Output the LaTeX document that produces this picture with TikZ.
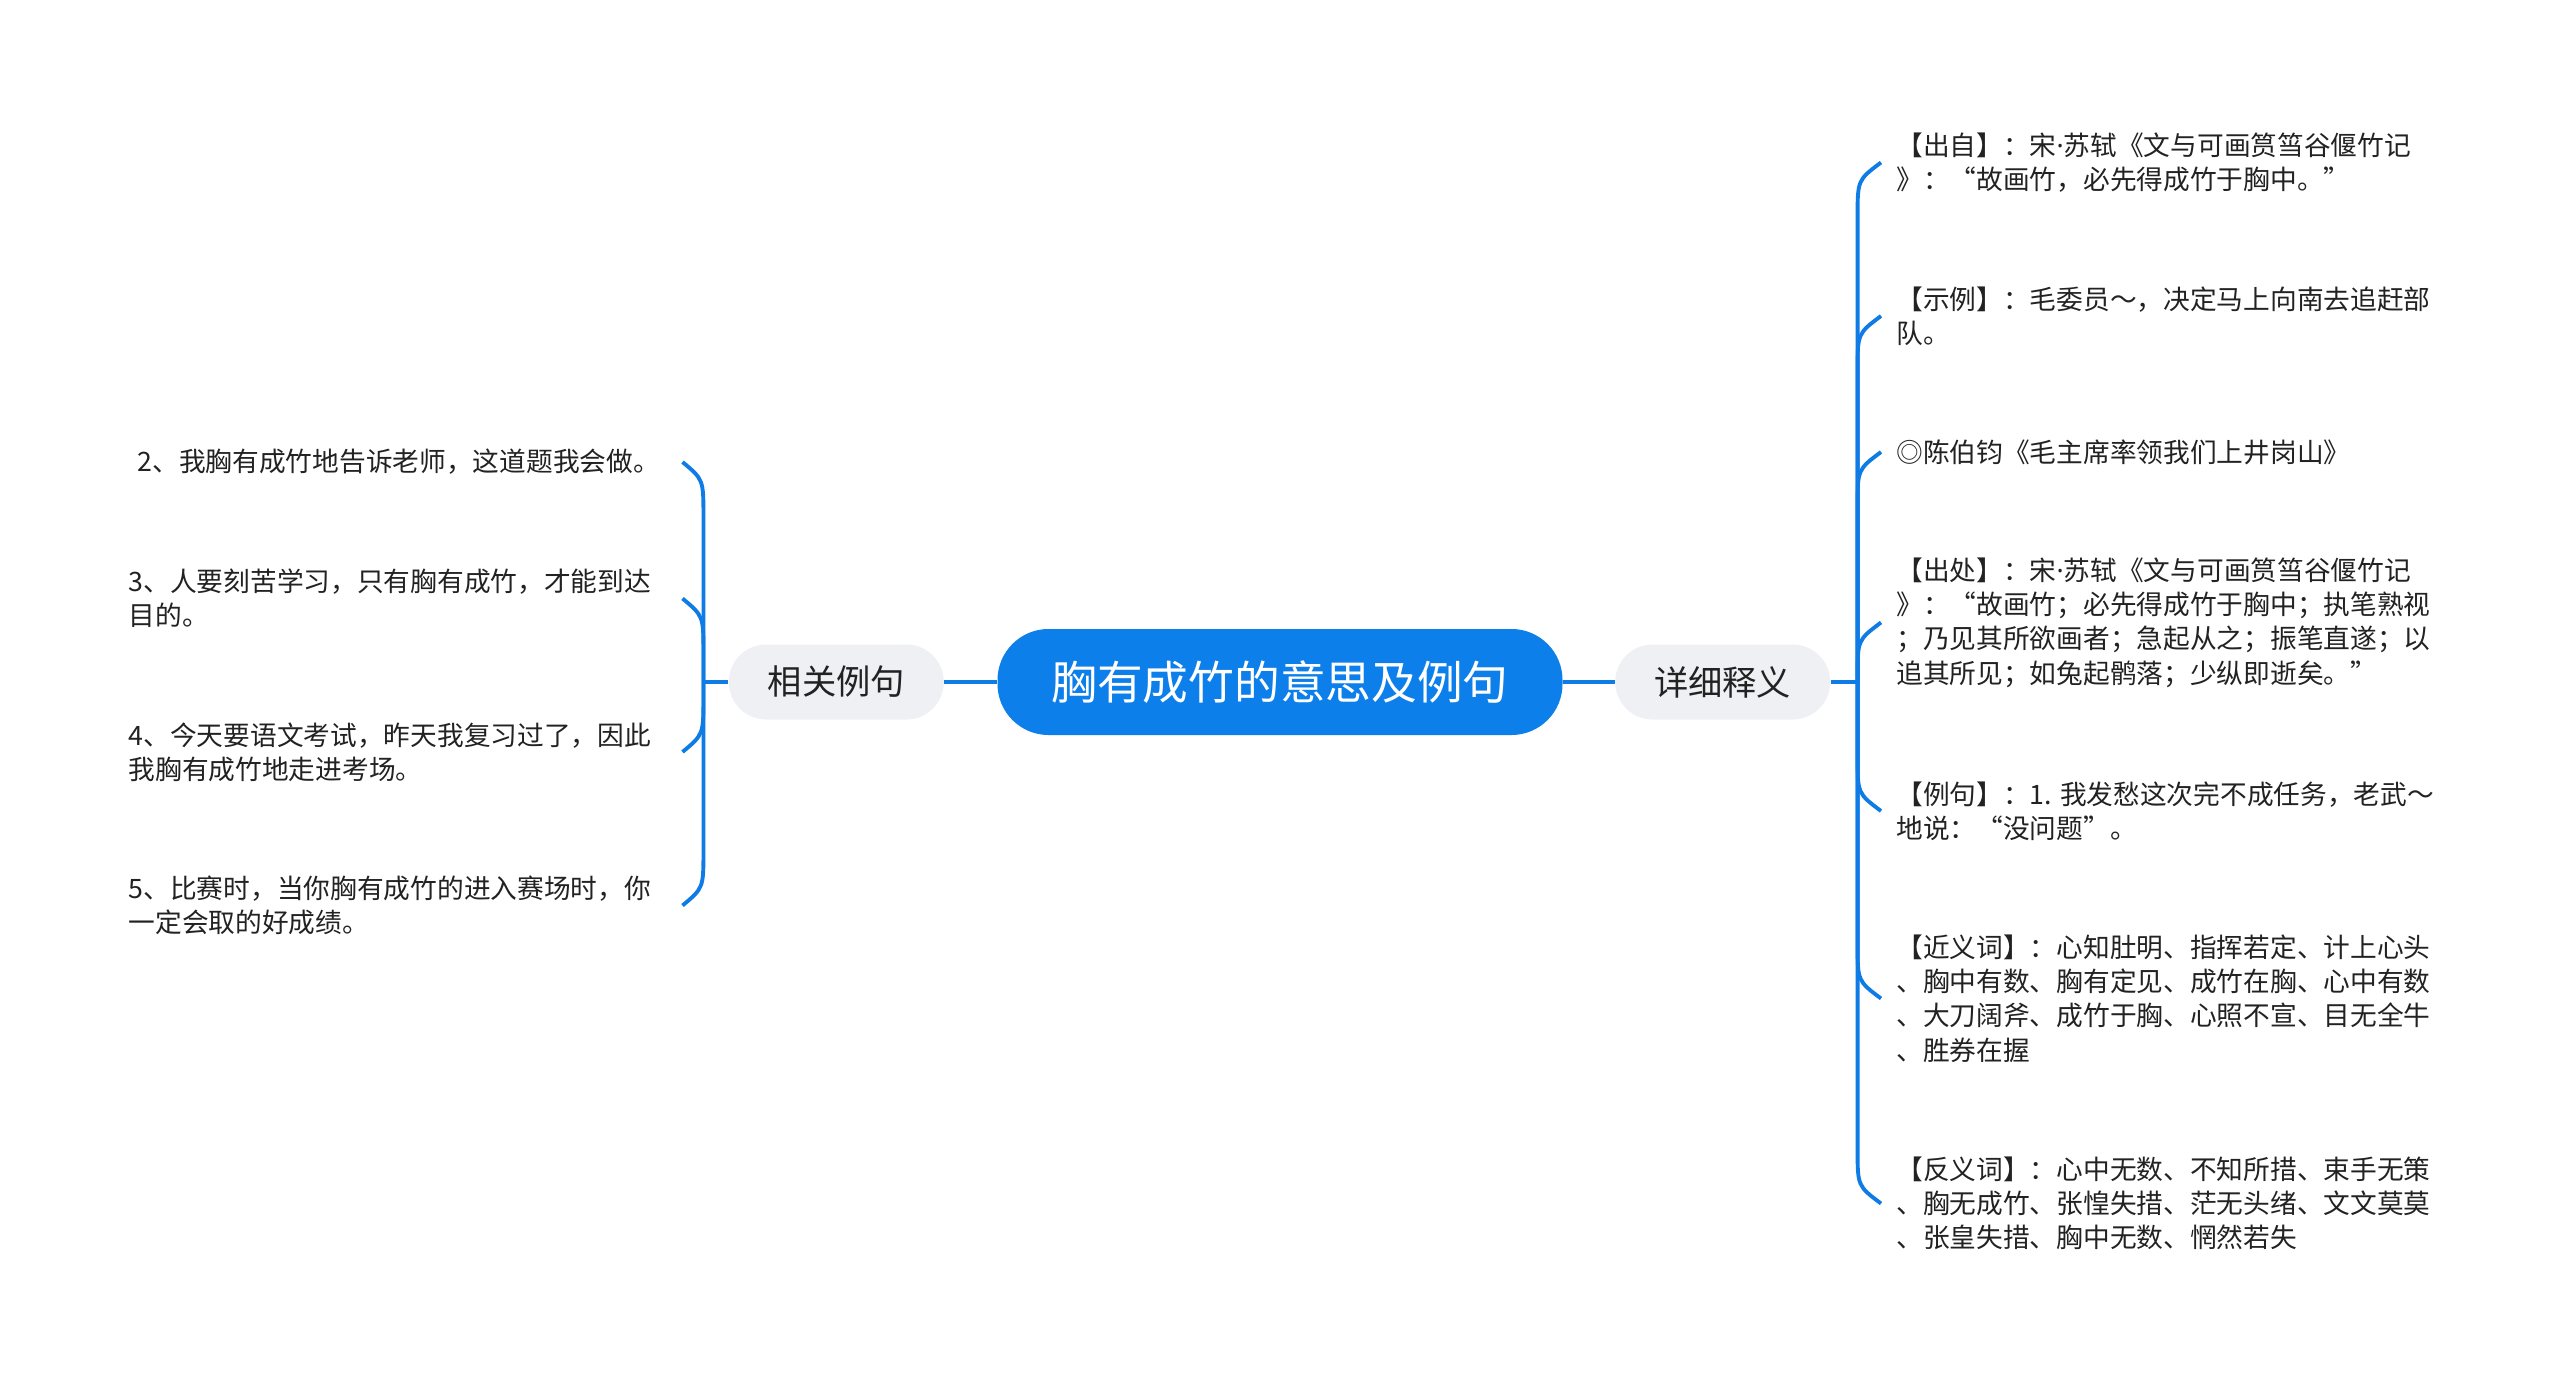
\documentclass[tikz,border=0pt]{standalone}
\usepackage{fontspec}
\setmainfont{Noto Sans CJK SC}
\newfontfamily\latinfont{Noto Sans}
\usetikzlibrary{positioning,calc}

\begin{document}
\begin{tikzpicture}[link/.style={draw={rgb,255:red,14;green,124;blue,228},line width=2.2pt},rootbox/.style={fill={rgb,255:red,12;green,127;blue,234},text=white,rounded corners=1.02cm,minimum width=11.3cm,minimum height=2.12cm,font=\fontsize{26pt}{30pt}\selectfont},branchbox/.style={fill={rgb,255:red,238;green,240;blue,244},text={rgb,255:red,34;green,34;blue,34},rounded corners=.75cm,minimum width=4.3cm,minimum height=1.5cm,font=\fontsize{19.5pt}{24pt}\selectfont},leafbox/.style={align=left,inner xsep=.3cm,inner ysep=.15cm,text={rgb,255:red,34;green,34;blue,34},font=\fontsize{15.2pt}{19.5pt}\selectfont}]
\fill[white] (0,0) rectangle (51.2,-27.66);
\useasboundingbox (0,0) rectangle (51.2,-27.66);
\node[rootbox] (root) at (25.6,-13.64) {胸有成竹的意思及例句};
\node[branchbox,left=1.06cm of root] (ex) {相关例句};
\node[branchbox,right=1.04cm of root] (def) {详细释义};
\draw[link] (root) -- (ex);
\draw[link] (root) -- (def);
\coordinate[left=.5cm of ex] (exfork);
\coordinate[right=.54cm of def] (deffork);
\draw[link] (ex) -- (exfork);
\draw[link] (def) -- (deffork);
\foreach \nm/\y/\txt in {l1/-9.24/{\ 2、我胸有成竹地告诉老师，这道题我会做。},l2/-11.97/{3、人要刻苦学习，只有胸有成竹，才能到达\\目的。},l3/-15.04/{4、今天要语文考试，昨天我复习过了，因此\\我胸有成竹地走进考场。},l4/-18.11/{5、比赛时，当你胸有成竹的进入赛场时，你\\一定会取的好成绩。}}{\node[leafbox,text width=10.77cm,anchor=east] (\nm) at (13.65,\y) {\txt};\draw[link] (exfork) -- ($(exfork |- \nm.east)!1.1cm!(exfork)$) .. controls ($(exfork |- \nm.east)!.35cm!(exfork)$) .. (\nm.east);}
\foreach \nm/\y/\txt in {d1/-3.25/{【出自】：宋{\latinfont ·}苏轼《文与可画筼筜谷偃竹记\\》：“故画竹，必先得成竹于胸中。”},d2/-6.32/{【示例】：毛委员～，决定马上向南去追赶部\\队。},d3/-9.04/{◎陈伯钧《毛主席率领我们上井岗山》},d4/-12.45/{【出处】：宋{\latinfont ·}苏轼《文与可画筼筜谷偃竹记\\》：“故画竹；必先得成竹于胸中；执笔熟视\\；乃见其所欲画者；急起从之；振笔直遂；以\\追其所见；如兔起鹘落；少纵即逝矣。”},d5/-16.22/{【例句】：1. 我发愁这次完不成任务，老武～\\地说：“没问题”。},d6/-19.97/{【近义词】：心知肚明、指挥若定、计上心头\\、胸中有数、胸有定见、成竹在胸、心中有数\\、大刀阔斧、成竹于胸、心照不宣、目无全牛\\、胜券在握},d7/-24.07/{【反义词】：心中无数、不知所措、束手无策\\、胸无成竹、张惶失措、茫无头绪、文文莫莫\\、张皇失措、胸中无数、惘然若失}}{\node[leafbox,anchor=west] (\nm) at (37.62,\y) {\txt};\draw[link] (deffork) -- ($(deffork |- \nm.west)!1.1cm!(deffork)$) .. controls ($(deffork |- \nm.west)!.35cm!(deffork)$) .. (\nm.west);}
\end{tikzpicture}
\end{document}
